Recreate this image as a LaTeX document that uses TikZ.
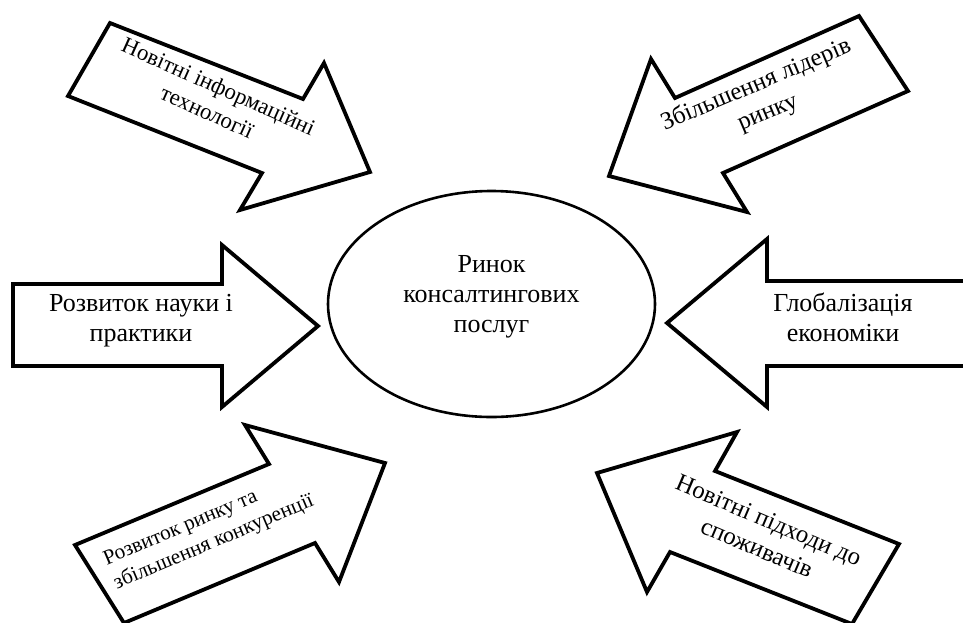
\documentclass[tikz,border=0pt]{standalone}
\usepackage{fontspec}
\setmainfont{Liberation Serif}
\usetikzlibrary{shapes.geometric,positioning}

\tikzset{
    bigarrow/.style={draw, line width=1.9pt, line join=miter, fill=white},
    arrowtext/.style={align=center, inner sep=0pt, font=\fontsize{12.4}{15}\selectfont},
    market/.style={draw, ellipse, line width=1.3pt, minimum width=163.5pt, minimum height=113pt, inner sep=0pt}
}

\begin{document}
\begin{tikzpicture}[x=0.5pt, y=-0.5pt]
    \useasboundingbox (0,0) rectangle (963,622);
    \clip (0,0) rectangle (963,622);

    % centre
    \node[market] (rynok) at (491.5,304) {};
    \node[arrowtext, font=\fontsize{13}{15}\selectfont] (rynoktext) at ([yshift=3.5pt]rynok.center) {Ринок\\консалтингових\\послуг};

    % arrows from the left
    \draw[bigarrow] (110,23) -- (303,99) -- (324,63) -- (370,172) -- (240,210) -- (262,173) -- (68,96) -- cycle;
    \draw[bigarrow] (13,284) -- (222,284) -- (222,245) -- (318,326) -- (222,407) -- (222,366) -- (13,366) -- cycle;
    \draw[bigarrow] (75,545) -- (269,464) -- (245,425) -- (385,463) -- (339,582) -- (315,543) -- (124,623) -- cycle;

    % arrows from the right
    \draw[bigarrow] (859,16) -- (675,98) -- (651,59) -- (609,176) -- (747,212) -- (723,173) -- (908,91) -- cycle;
    \draw[bigarrow] (975,281) -- (767,281) -- (767,239) -- (667,323) -- (767,407) -- (767,366) -- (975,366) -- cycle;
    \draw[bigarrow] (899,544) -- (715,471) -- (737,432) -- (597,473) -- (647,592) -- (670,552) -- (852,624) -- cycle;

    % labels
    \node[arrowtext, rotate=-24, font=\fontsize{11.4}{14}\selectfont] (tech) at (213,99) {Новітні інформаційні\\технології};
    \node[arrowtext, font=\fontsize{13}{15}\selectfont] (nauka) at (141,321) {Розвиток науки і\\практики};
    \node[arrowtext, rotate=23, align=left, font=\fontsize{10.6}{13}\selectfont] (konk) at (209,531) {Розвиток ринку та\\збільшення конкуренції};
    \node[arrowtext, rotate=23] (lidery) at (762,99) {Збільшення лідерів\\ринку};
    \node[arrowtext, font=\fontsize{13}{15}\selectfont] (global) at (843,317) {Глобалізація\\економіки};
    \node[arrowtext, rotate=-23] (spoz) at (763,534) {Новітні підходи до\\споживачів};
\end{tikzpicture}
\end{document}
